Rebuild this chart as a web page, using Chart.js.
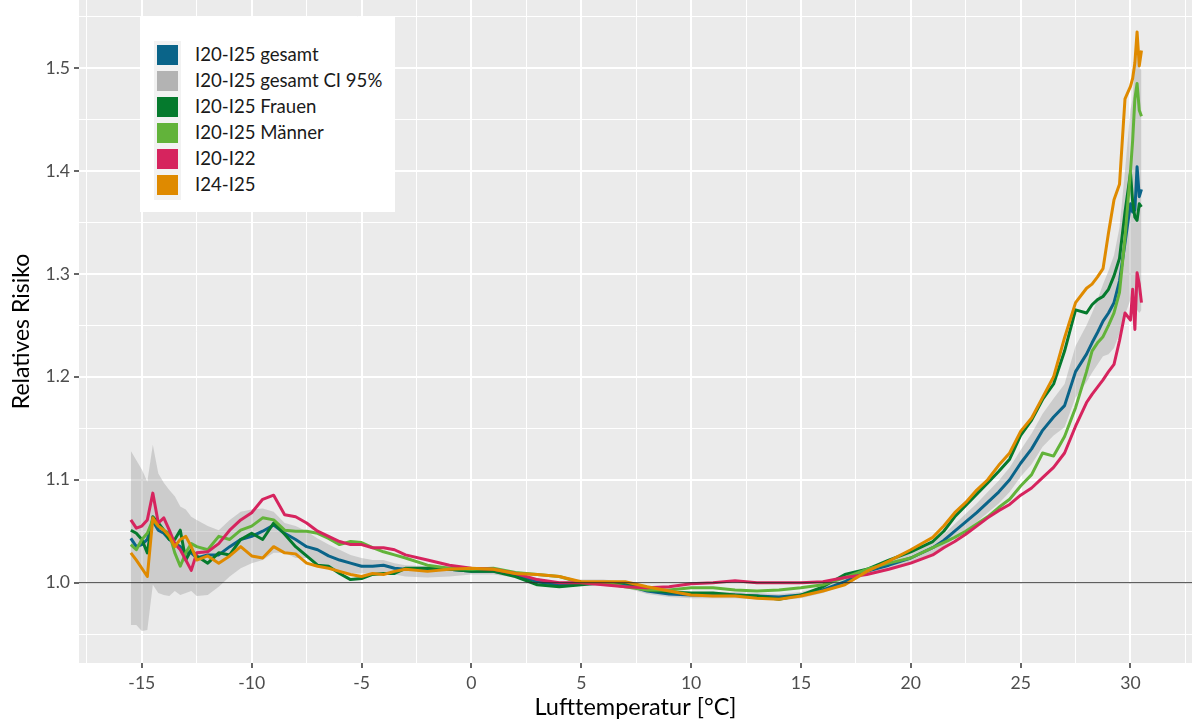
<!DOCTYPE html>
<html>
<head>
<meta charset="utf-8">
<script src="https://cdn.jsdelivr.net/npm/chart.js@4"></script>
<style>
  body { margin: 0; background: #fff; }
  #wrap { position: relative; width: 1192px; height: 722px; }
  #legend {
    position: absolute; left: 140px; top: 17px; width: 255px; height: 195px;
    background: #fff; font-family: Lato, sans-serif; font-size: 18.6px; color: #1a1a1a;
  }
  #legend .keys { position: absolute; left: 14px; top: 24px; width: 27px; height: 159px; background: #f2f2f2; }
  #legend .item { position: absolute; left: 17px; height: 20px; line-height: 20px; white-space: nowrap; }
  #legend .sw { display: inline-block; width: 21px; height: 20px; vertical-align: top; }
  #legend .lab { position: absolute; left: 38px; top: -1px; }
</style>
</head>
<body>
<div id="wrap">
  <canvas id="chart" width="1192" height="722"></canvas>
  <div id="legend"><div class="keys"></div></div>
</div>
<script>
const temps = [
  -15.5, -15.25, -15, -14.75, -14.5, -14.25, -14, -13.75, -13.5, -13.25, -13, -12.75, -12.5,
  -12, -11.5, -11, -10.5, -10, -9.5, -9, -8.5, -8, -7.5, -7, -6.5, -6, -5.5, -5, -4.5, -4, -3.5, -3,
  -2, -1, 0, 1, 2, 3, 4, 5, 6, 7, 8, 9, 10, 11, 12, 13, 14, 15, 16, 17, 18, 19, 20, 21,
  21.5, 22, 22.5, 23, 23.5, 24, 24.5, 25, 25.5, 26, 26.5, 27, 27.5, 28,
  28.25, 28.5, 28.75, 29, 29.25, 29.5, 29.75, 30,
  30.1, 30.2, 30.3, 30.4, 30.5
];

// I20-I25 gesamt
const gesamt = [
  1.043, 1.035, 1.037, 1.042, 1.060, 1.051, 1.048, 1.042, 1.038, 1.035, 1.029, 1.029, 1.024,
  1.027, 1.027, 1.035, 1.042, 1.045, 1.050, 1.056, 1.048, 1.042, 1.035, 1.032, 1.026, 1.022, 1.019, 1.016, 1.016, 1.017, 1.014, 1.013,
  1.013, 1.013, 1.011, 1.011, 1.008, 1.001, 0.998, 1.000, 1.000, 0.998, 0.992, 0.989, 0.988, 0.988, 0.988, 0.987, 0.986, 0.988, 0.993, 1.001, 1.011, 1.017, 1.024, 1.034,
  1.041, 1.050, 1.059, 1.068, 1.078, 1.088, 1.100, 1.116, 1.130, 1.148, 1.161, 1.172, 1.205, 1.222,
  1.233, 1.243, 1.254, 1.262, 1.272, 1.293, 1.330, 1.368,
  1.360, 1.362, 1.404, 1.375, 1.382
];

const ciUpper = [
  1.128, 1.119, 1.110, 1.098, 1.134, 1.106, 1.097, 1.090, 1.084, 1.074, 1.071, 1.064, 1.061,
  1.055, 1.051, 1.061, 1.069, 1.071, 1.072, 1.069, 1.058, 1.055, 1.050, 1.043, 1.037, 1.032, 1.027, 1.024, 1.022, 1.022, 1.019, 1.017,
  1.016, 1.016, 1.014, 1.014, 1.011, 1.004, 1.001, 1.003, 1.003, 1.001, 0.995, 0.992, 0.991, 0.991, 0.991, 0.990, 0.989, 0.991, 0.996, 1.004, 1.014, 1.021, 1.029, 1.040,
  1.047, 1.057, 1.067, 1.077, 1.088, 1.099, 1.112, 1.129, 1.145, 1.164, 1.179, 1.193, 1.230, 1.250,
  1.262, 1.275, 1.290, 1.303, 1.318, 1.345, 1.400, 1.460,
  1.470, 1.505, 1.517, 1.500, 1.498
];

const ciLower = [
  0.959, 0.959, 0.953, 0.954, 0.998, 0.990, 0.988, 0.987, 0.992, 0.988, 0.990, 0.992, 0.987,
  0.988, 0.996, 1.006, 1.014, 1.019, 1.022, 1.029, 1.029, 1.024, 1.024, 1.019, 1.014, 1.011, 1.009, 1.009, 1.009, 1.009, 1.008, 1.006,
  1.005, 1.006, 1.008, 1.008, 1.005, 0.998, 0.995, 0.997, 0.997, 0.995, 0.989, 0.986, 0.985, 0.985, 0.985, 0.984, 0.983, 0.985, 0.990, 0.998, 1.008, 1.013, 1.019, 1.028,
  1.035, 1.043, 1.051, 1.059, 1.068, 1.077, 1.088, 1.103, 1.115, 1.132, 1.143, 1.151, 1.180, 1.195,
  1.204, 1.212, 1.220, 1.222, 1.228, 1.242, 1.260, 1.275,
  1.275, 1.270, 1.265, 1.262, 1.265
];

const frauen = [
  1.051, 1.048, 1.042, 1.029, 1.064, 1.058, 1.051, 1.042, 1.042, 1.051, 1.022, 1.032, 1.026,
  1.019, 1.029, 1.027, 1.042, 1.048, 1.042, 1.058, 1.047, 1.035, 1.026, 1.017, 1.016, 1.009, 1.003, 1.004, 1.008, 1.009, 1.009, 1.014,
  1.014, 1.013, 1.011, 1.011, 1.006, 0.998, 0.996, 0.998, 1.000, 1.000, 0.993, 0.991, 0.990, 0.990, 0.988, 0.987, 0.984, 0.988, 0.996, 1.008, 1.013, 1.022, 1.030, 1.040,
  1.050, 1.064, 1.075, 1.086, 1.097, 1.108, 1.120, 1.143, 1.158, 1.178, 1.193, 1.225, 1.265, 1.262,
  1.270, 1.275, 1.278, 1.285, 1.298, 1.315, 1.360, 1.398,
  1.370, 1.355, 1.352, 1.368, 1.365
];

const maenner = [
  1.037, 1.032, 1.042, 1.048, 1.061, 1.055, 1.051, 1.048, 1.029, 1.016, 1.029, 1.038, 1.035,
  1.032, 1.045, 1.042, 1.051, 1.055, 1.063, 1.061, 1.051, 1.050, 1.050, 1.048, 1.043, 1.037, 1.040, 1.039, 1.034, 1.030, 1.027, 1.024,
  1.017, 1.014, 1.013, 1.014, 1.010, 1.008, 1.006, 1.000, 1.000, 0.996, 0.993, 0.993, 0.995, 0.995, 0.993, 0.992, 0.993, 0.995, 0.998, 1.005, 1.013, 1.019, 1.024, 1.034,
  1.039, 1.044, 1.050, 1.057, 1.064, 1.073, 1.081, 1.094, 1.105, 1.126, 1.123, 1.142, 1.170, 1.205,
  1.225, 1.233, 1.239, 1.250, 1.262, 1.282, 1.335, 1.400,
  1.430, 1.470, 1.485, 1.459, 1.453
];

// I20-I22
const i20i22 = [
  1.061, 1.053, 1.055, 1.061, 1.087, 1.058, 1.063, 1.051, 1.038, 1.032, 1.022, 1.012, 1.029,
  1.030, 1.038, 1.051, 1.061, 1.068, 1.081, 1.085, 1.066, 1.064, 1.058, 1.050, 1.045, 1.040, 1.037, 1.037, 1.034, 1.034, 1.032, 1.027,
  1.022, 1.017, 1.014, 1.013, 1.009, 1.003, 1.000, 1.000, 0.998, 0.996, 0.995, 0.996, 0.999, 1.000, 1.002, 1.000, 1.000, 1.000, 1.001, 1.005, 1.008, 1.013, 1.019, 1.027,
  1.034, 1.040, 1.047, 1.055, 1.063, 1.070, 1.076, 1.085, 1.092, 1.102, 1.112, 1.126, 1.152, 1.175,
  1.183, 1.190, 1.197, 1.205, 1.212, 1.235, 1.262, 1.255,
  1.285, 1.246, 1.301, 1.290, 1.272
];

// I24-I25
const i24i25 = [
  1.029, 1.022, 1.014, 1.006, 1.063, 1.055, 1.051, 1.045, 1.035, 1.042, 1.045, 1.035, 1.022,
  1.026, 1.019, 1.026, 1.035, 1.026, 1.024, 1.035, 1.029, 1.028, 1.019, 1.016, 1.014, 1.011, 1.008, 1.006, 1.009, 1.008, 1.011, 1.013,
  1.011, 1.013, 1.014, 1.013, 1.009, 1.008, 1.006, 1.001, 1.001, 1.001, 0.996, 0.992, 0.988, 0.987, 0.987, 0.985, 0.984, 0.987, 0.992, 0.998, 1.011, 1.021, 1.032, 1.044,
  1.055, 1.068, 1.078, 1.090, 1.100, 1.114, 1.126, 1.147, 1.160, 1.180, 1.200, 1.238, 1.272, 1.286,
  1.290, 1.297, 1.305, 1.340, 1.372, 1.387, 1.470, 1.482,
  1.490, 1.505, 1.535, 1.502, 1.517
];

const xTicks = [-17.5, -15, -12.5, -10, -7.5, -5, -2.5, 0, 2.5, 5, 7.5, 10, 12.5, 15, 17.5, 20, 22.5, 25, 27.5, 30, 32.5];
const yTicks = [0.95, 1.0, 1.05, 1.1, 1.15, 1.2, 1.25, 1.3, 1.35, 1.4, 1.45, 1.5, 1.55];
const refLevel = 1.0;

const series = [
  { label: 'I24-I25', data: i24i25, color: '#df8a00' },
  { label: 'I20-I22', data: i20i22, color: '#d6245e' },
  { label: 'I20-I25 Männer', data: maenner, color: '#62b33a' },
  { label: 'I20-I25 Frauen', data: frauen, color: '#057a2d' },
  { label: 'I20-I25 gesamt', data: gesamt, color: '#0a6489' }
];
const legendItems = [
  ['I20-I25 gesamt', '#0a6489'],
  ['I20-I25 gesamt CI 95%', '#b3b3b3'],
  ['I20-I25 Frauen', '#057a2d'],
  ['I20-I25 Männer', '#62b33a'],
  ['I20-I22', '#d6245e'],
  ['I24-I25', '#df8a00']
];

const pts = arr => temps.map((t, i) => ({ x: t, y: arr[i] }));

const datasets = [
  { data: [{ x: -20, y: refLevel }, { x: 35, y: refLevel }], borderColor: 'rgba(40,40,40,0.75)', borderWidth: 1.2, order: 0 }
];
series.forEach((s, i) => datasets.push({
  label: s.label, data: pts(s.data), borderColor: s.color, borderWidth: 3, order: i + 1
}));
datasets.push({ label: 'CI upper', data: pts(ciUpper), borderWidth: 0, borderColor: 'rgba(0,0,0,0)',
  backgroundColor: 'rgba(150,150,150,0.36)', fill: '+1', order: 10 });
datasets.push({ label: 'CI lower', data: pts(ciLower), borderWidth: 0, borderColor: 'rgba(0,0,0,0)', order: 11 });

const panelBg = {
  id: 'panelBg',
  beforeDraw(chart) {
    const { ctx, chartArea: a } = chart;
    ctx.save();
    ctx.fillStyle = '#ebebeb';
    ctx.fillRect(a.left, a.top, a.right - a.left, a.bottom - a.top);
    ctx.restore();
  }
};

const isMajor = (v, step) => Math.abs(Math.round(v / step) * step - v) < 1e-6;

new Chart(document.getElementById('chart'), {
  type: 'line',
  data: { datasets },
  options: {
    responsive: false,
    animation: false,
    clip: true,
    layout: { padding: 0 },
    elements: { point: { radius: 0 }, line: { tension: 0, borderJoinStyle: 'round' } },
    plugins: { legend: { display: false }, tooltip: { enabled: false } },
    scales: {
      x: {
        type: 'linear', min: -17.86, max: 32.8,
        afterBuildTicks: s => { s.ticks = xTicks.map(v => ({ value: v })); },
        afterFit: s => { s.height = 59; s.paddingLeft = 0; s.paddingRight = 0; },
        border: { display: false },
        grid: {
          color: '#ffffff',
          lineWidth: c => isMajor(c.tick.value, 5) ? 2 : 1,
          tickColor: c => isMajor(c.tick.value, 5) ? '#333333' : 'rgba(0,0,0,0)',
          tickWidth: 1.5,
          tickLength: 5
        },
        ticks: {
          autoSkip: false, maxRotation: 0, padding: 5, color: '#4d4d4d',
          font: { family: 'Lato', size: 17.6 },
          callback: v => isMajor(v, 5) ? String(v) : ''
        },
        title: { display: true, text: 'Lufttemperatur [°C]', color: '#000', font: { family: 'Lato', size: 23.5 }, padding: { top: 0, bottom: 0 } }
      },
      y: {
        type: 'linear', min: 0.922, max: 1.566,
        afterBuildTicks: s => { s.ticks = yTicks.map(v => ({ value: v })); },
        afterFit: s => { s.width = 79; s.paddingTop = 0; s.paddingBottom = 0; },
        border: { display: false },
        grid: {
          color: '#ffffff',
          lineWidth: c => isMajor(c.tick.value, 0.1) ? 2 : 1,
          tickColor: c => isMajor(c.tick.value, 0.1) ? '#333333' : 'rgba(0,0,0,0)',
          tickWidth: 1.5,
          tickLength: 5
        },
        ticks: {
          autoSkip: false, padding: 4, color: '#4d4d4d',
          font: { family: 'Lato', size: 17.6 },
          callback: v => isMajor(v, 0.1) ? v.toFixed(1) : ''
        },
        title: { display: true, text: 'Relatives Risiko', color: '#000', font: { family: 'Lato', size: 23 }, padding: { top: 8, bottom: 0 } }
      }
    }
  },
  plugins: [panelBg]
});

const legend = document.getElementById('legend');
legendItems.forEach(([label, color], i) => {
  const item = document.createElement('div');
  item.className = 'item';
  item.style.top = (28 + i * 26) + 'px';
  item.innerHTML = '<span class="sw" style="background:' + color + '"></span><span class="lab"></span>';
  item.querySelector('.lab').textContent = label;
  legend.appendChild(item);
});
</script>
</body>
</html>
